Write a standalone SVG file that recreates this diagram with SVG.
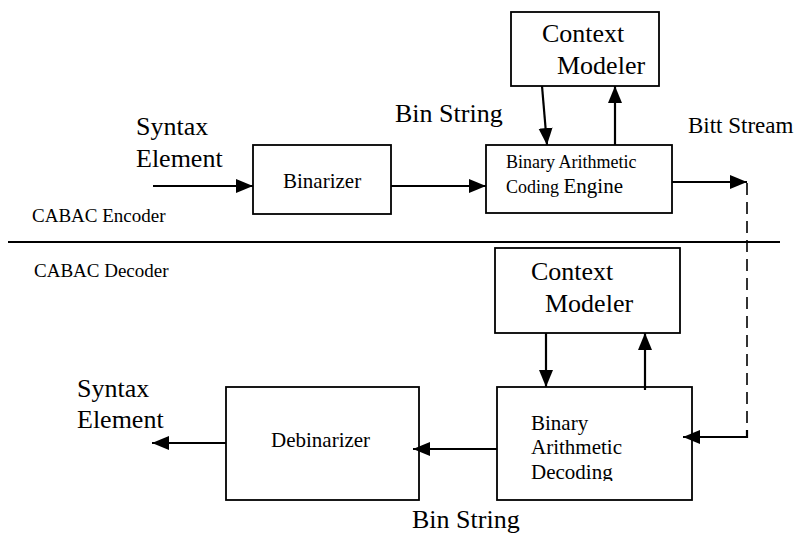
<svg xmlns="http://www.w3.org/2000/svg" width="800" height="540" viewBox="0 0 800 540">
  <style>
    text { font-family: "Liberation Serif", Tinos, "Times New Roman", Times, "DejaVu Serif", serif; fill: #000; }
    .box { fill: #fff; stroke: #000; stroke-width: 1.8; }
    .wire { fill: none; stroke: #000; stroke-width: 2.2; }
    .dash { fill: none; stroke: #000; stroke-width: 1.6; stroke-dasharray: 12 7; }
    .big { font-size: 26px; }
    .mid { font-size: 21px; }
    .lbl { font-size: 19px; }
  </style>
  <defs>
    <marker id="arrow" markerUnits="userSpaceOnUse" markerWidth="18" markerHeight="15" refX="17" refY="7" orient="auto">
      <path d="M0,0 L17,7 L0,14 z" fill="#000"/>
    </marker>
  </defs>

  <rect width="800" height="540" fill="#fff"/>

  <!-- section divider and section titles -->
  <line x1="8" y1="242" x2="780" y2="242" stroke="#000" stroke-width="1.8"/>
  <text class="lbl" x="32" y="222">CABAC Encoder</text>
  <text class="lbl" x="34" y="277">CABAC Decoder</text>

  <!-- encoder nodes -->
  <g id="enc-context-modeler">
    <rect class="box" x="511" y="12" width="148" height="74"/>
    <text class="big" x="542" y="42">Context</text>
    <text class="big" x="557" y="74">Modeler</text>
  </g>
  <g id="binarizer">
    <rect class="box" x="253" y="145" width="138" height="69"/>
    <text class="mid" x="283" y="188">Binarizer</text>
  </g>
  <g id="bac-engine">
    <rect class="box" x="486" y="145" width="186" height="68"/>
    <text x="506" y="168" font-size="18">Binary Arithmetic</text>
    <text x="506" y="193" font-size="18">Coding <tspan font-size="21">Engine</tspan></text>
  </g>

  <!-- decoder nodes -->
  <g id="dec-context-modeler">
    <rect class="box" x="495" y="248" width="185" height="85"/>
    <text class="big" x="531" y="280">Context</text>
    <text class="big" x="545" y="312">Modeler</text>
  </g>
  <g id="bad-engine">
    <clipPath id="badClip"><rect x="497" y="387" width="195" height="94"/></clipPath>
    <rect class="box" x="497" y="387" width="195" height="113"/>
    <g clip-path="url(#badClip)">
      <text class="mid" x="531" y="430">Binary</text>
      <text class="mid" x="531" y="454">Arithmetic</text>
      <text class="mid" x="531" y="479">Decoding</text>
    </g>
  </g>
  <g id="debinarizer">
    <rect class="box" x="226" y="387" width="193" height="113"/>
    <text class="mid" x="271" y="447">Debinarizer</text>
  </g>

  <!-- free labels -->
  <g id="labels">
    <text class="big" x="136" y="135">Syntax</text>
    <text class="big" x="136" y="167">Element</text>
    <text class="big" x="395" y="122">Bin String</text>
    <text x="688" y="133" font-size="23">Bitt Stream</text>
    <text class="big" x="77" y="397">Syntax</text>
    <text class="big" x="77" y="428">Element</text>
    <text class="big" x="412" y="528">Bin String</text>
  </g>

  <!-- connectors -->
  <g id="connectors">
    <line class="wire" x1="153" y1="186" x2="253" y2="186" marker-end="url(#arrow)"/>
    <line class="wire" x1="391" y1="186" x2="486" y2="186" marker-end="url(#arrow)"/>
    <line class="wire" x1="542" y1="86" x2="547" y2="145" marker-end="url(#arrow)"/>
    <line class="wire" x1="615" y1="145" x2="615" y2="86" marker-end="url(#arrow)"/>
    <line class="wire" x1="672" y1="182" x2="747" y2="182" marker-end="url(#arrow)"/>
    <line class="dash" x1="747" y1="183" x2="747" y2="436"/>
    <polyline class="wire" points="747,430 747,437 683,437" marker-end="url(#arrow)"/>
    <line class="wire" x1="546" y1="333" x2="546" y2="387" marker-end="url(#arrow)"/>
    <line class="wire" x1="645" y1="390" x2="645" y2="333" marker-end="url(#arrow)"/>
    <line class="wire" x1="497" y1="449" x2="413" y2="449" marker-end="url(#arrow)"/>
    <line class="wire" x1="226" y1="443" x2="152" y2="443" marker-end="url(#arrow)"/>
  </g>
</svg>
